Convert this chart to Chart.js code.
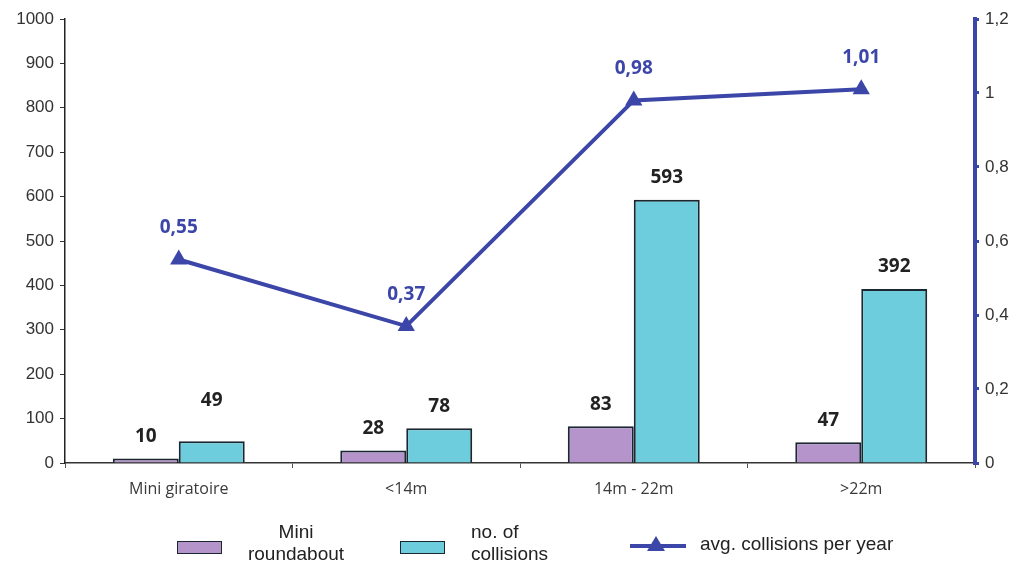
<!DOCTYPE html>
<html>
<head>
<meta charset="utf-8">
<script src="https://cdn.jsdelivr.net/npm/chart.js@4.4.1/dist/chart.umd.min.js"></script>
<style>
  html, body { margin: 0; padding: 0; background: #fff; }
  #wrap { position: relative; width: 1020px; height: 565px; }
  #legend { position: absolute; left: 0; top: 0; width: 1020px; height: 565px; pointer-events: none;
            font-family: 'Liberation Sans', Arial, sans-serif; color: #222; font-size: 19px; }
  .box { position: absolute; width: 43px; height: 11px; border: 1.5px solid #1a2630; }
  .txt { position: absolute; line-height: 22px; text-align: center; }
</style>
</head>
<body>
<div id="wrap">
  <canvas id="c" width="1020" height="565"></canvas>
  <div id="legend">
    <div class="box" style="left:177px; top:541px; background:#b594cc;"></div>
    <div class="txt" style="left:246px; top:521px; width:100px;">Mini<br>roundabout</div>
    <div class="box" style="left:400px; top:541px; background:#6dcddc;"></div>
    <div class="txt" style="left:471px; top:521px; text-align:left;">no. of<br>collisions</div>
    <svg style="position:absolute; left:628px; top:533px;" width="60" height="24">
      <line x1="2" y1="13" x2="58" y2="13" stroke="#3c46a8" stroke-width="4"/>
      <polygon points="28,3 37,18 19,18" fill="#3c46a8"/>
    </svg>
    <div class="txt" style="left:700px; top:533px; text-align:left;">avg. collisions per year</div>
  </div>
</div>
<script>
// catégories et séries
const categories = ['Mini giratoire', '<14m', '14m - 22m', '>22m'];
const miniRoundabout = [10, 28, 83, 47];
const collisions = [49, 78, 593, 392];
const avgPerYear = [0.55, 0.37, 0.98, 1.01];
const leftTicks = [0, 100, 200, 300, 400, 500, 600, 700, 800, 900, 1000];
const rightTicks = [0, 0.2, 0.4, 0.6, 0.8, 1, 1.2];

const PURPLE = '#b594cc';
const TEAL = '#6dcddc';
const BLUE = '#3c46a8';
const EDGE = '#1a2630';

const fmt = v => String(v).replace('.', ',');

// étiquettes de valeur au-dessus des barres et des points
const valueLabels = {
    id: 'valueLabels',
    afterDatasetsDraw(chart) {
        const ctx = chart.ctx;
        ctx.save();
        ctx.textAlign = 'center';
        ctx.textBaseline = 'middle';
        ctx.font = 'bold 19px "Open Sans", sans-serif';
        chart.data.datasets.forEach((ds, i) => {
            const meta = chart.getDatasetMeta(i);
            meta.data.forEach((el, j) => {
                const v = ds.data[j];
                if (ds.type === 'line') {
                    ctx.fillStyle = BLUE;
                    ctx.fillText(fmt(v), el.x, el.y - 32);
                } else {
                    ctx.fillStyle = '#222';
                    // le 49 est placé plus haut que les autres
                    const lift = (ds.data === collisions && j === 0) ? 41 : 22;
                    ctx.fillText(String(v), el.x, el.y - lift);
                }
            });
        });
        ctx.restore();
    }
};

new Chart(document.getElementById('c'), {
    data: {
        labels: categories,
        datasets: [
            {
                type: 'line',
                label: 'avg. collisions per year',
                data: avgPerYear,
                yAxisID: 'y2',
                borderColor: BLUE,
                backgroundColor: BLUE,
                borderWidth: 4,
                tension: 0,
                pointStyle: 'triangle',
                pointRadius: 10,
                pointBorderWidth: 0,
                order: 0
            },
            {
                type: 'bar',
                label: 'Mini roundabout',
                data: miniRoundabout,
                yAxisID: 'y',
                backgroundColor: PURPLE,
                borderColor: EDGE,
                borderWidth: 2,
                categoryPercentage: 0.58,
                barPercentage: 1,
                order: 1
            },
            {
                type: 'bar',
                label: 'no. of collisions',
                data: collisions,
                yAxisID: 'y',
                backgroundColor: TEAL,
                borderColor: EDGE,
                borderWidth: 2,
                categoryPercentage: 0.58,
                barPercentage: 1,
                order: 1
            }
        ]
    },
    options: {
        responsive: false,
        animation: false,
        layout: { padding: { top: 19, left: 0, right: 0, bottom: 0 } },
        plugins: { legend: { display: false }, tooltip: { enabled: false } },
        scales: {
            x: {
                offset: true,
                grid: { display: true, drawOnChartArea: false, offset: true, tickLength: 5, color: '#555' },
                border: { color: '#333', width: 1.5 },
                ticks: { color: '#3a3a3a', padding: 12, font: { family: '"Open Sans", sans-serif', size: 16 } },
                afterFit: s => { s.height = 102; }
            },
            y: {
                position: 'left',
                min: 0, max: 1000,
                afterBuildTicks: s => { s.ticks = leftTicks.map(v => ({ value: v })); },
                grid: { drawOnChartArea: false, tickLength: 5, color: '#333' },
                border: { color: '#222', width: 1.5 },
                ticks: { color: '#333', padding: 6, callback: v => String(v), font: { family: '"Liberation Sans", Arial, sans-serif', size: 17 } },
                afterFit: s => { s.width = 65; }
            },
            y2: {
                position: 'right',
                min: 0, max: 1.2,
                afterBuildTicks: s => { s.ticks = rightTicks.map(v => ({ value: v })); },
                grid: { drawOnChartArea: false, tickLength: 4, color: BLUE, lineWidth: 3 },
                border: { color: BLUE, width: 4 },
                ticks: { color: '#333', padding: 6, callback: v => fmt(v), font: { family: '"Liberation Sans", Arial, sans-serif', size: 17 } },
                afterFit: s => { s.width = 45; }
            }
        }
    },
    plugins: [valueLabels]
});
</script>
</body>
</html>
